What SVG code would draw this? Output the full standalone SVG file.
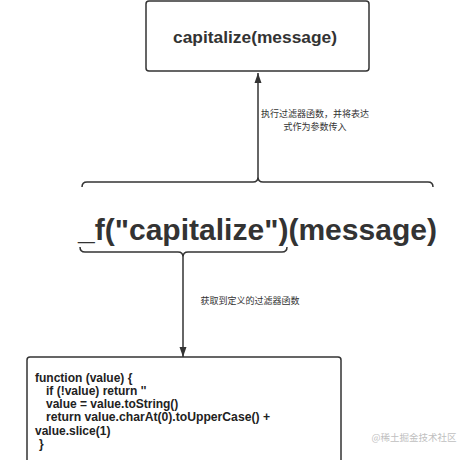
<svg xmlns="http://www.w3.org/2000/svg" width="460" height="460" viewBox="0 0 460 460">
<defs>
<style>
.box{fill:#fff;stroke:#333;stroke-width:1.5}
.ln{fill:none;stroke:#333;stroke-width:1.5}
.t{font-family:"Liberation Sans","Noto Sans CJK SC",sans-serif;font-weight:bold;fill:#333}
.cn{font-family:"Noto Sans CJK SC",sans-serif;font-size:9px;fill:#333;text-anchor:middle}
.code{font-family:"Liberation Sans",sans-serif;font-weight:bold;font-size:12px;fill:#222}
</style>
<marker id="ah" viewBox="0 0 10 10" refX="10" refY="5" markerWidth="10" markerHeight="10" markerUnits="userSpaceOnUse" orient="auto">
<path d="M0,1.5 L10,5 L0,8.5 Z" fill="#333"/>
</marker>
</defs>
<rect width="460" height="460" fill="#fff"/>
<g id="node-top">
<rect class="box" x="146" y="1" width="223" height="70" rx="3"/>
<text class="t" x="173" y="43" font-size="17" textLength="164" lengthAdjust="spacingAndGlyphs">capitalize(message)</text>
</g>
<g id="node-expr">
<text class="t" x="78" y="240" font-size="30" textLength="359" lengthAdjust="spacingAndGlyphs">_f("capitalize")(message)</text>
</g>
<g id="node-func">
<rect class="box" x="27" y="357" width="314" height="115" rx="3"/>
<text class="code" x="35" y="382">function (value) {</text>
<text class="code" x="46" y="395">if (!value) return ''</text>
<text class="code" x="46" y="408">value = value.toString()</text>
<text class="code" x="46" y="421" textLength="224" lengthAdjust="spacingAndGlyphs">return value.charAt(0).toUpperCase() +</text>
<text class="code" x="35" y="435">value.slice(1)</text>
<text class="code" x="39" y="448">}</text>
</g>
<g id="connectors">
<path class="ln" d="M82,187 Q82,182 87,182 L253,182 Q258,182 258,177 Q258,182 263,182 L428,182 Q433,182 433,187"/>
<path class="ln" d="M258,177 L258,73" marker-end="url(#ah)"/>
<path class="ln" d="M80,247 Q80,252 85,252 L178,252 Q183,252 183,257 Q183,252 188,252 L282,252 Q287,252 287,247"/>
<path class="ln" d="M183,257 L183,357" marker-end="url(#ah)"/>
<text class="cn" x="315" y="117">执行过滤器函数，并将表达</text>
<text class="cn" x="315" y="130">式作为参数传入</text>
<text class="cn" x="250" y="304">获取到定义的过滤器函数</text>
</g>
<text x="414" y="441" font-family="Noto Sans CJK SC,sans-serif" font-size="9.5" fill="#c0c0c0" text-anchor="middle">@稀土掘金技术社区</text>
</svg>
